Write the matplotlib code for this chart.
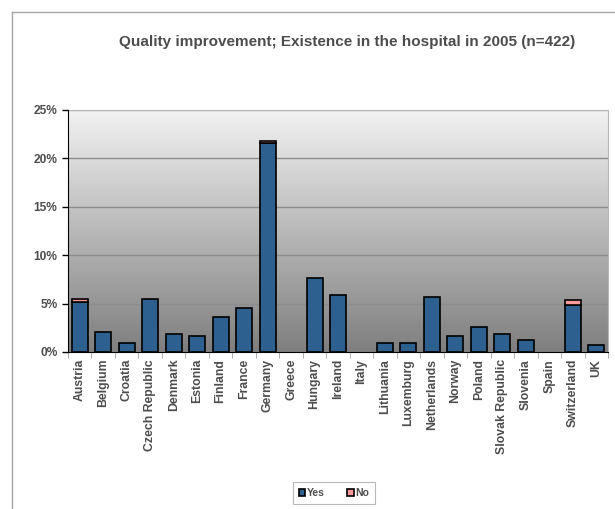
import numpy as np
import matplotlib.pyplot as plt
from matplotlib.colors import LinearSegmentedColormap
from matplotlib.ticker import FuncFormatter

countries = [
    "Austria", "Belgium", "Croatia", "Czech Republic", "Denmark", "Estonia",
    "Finland", "France", "Germany", "Greece", "Hungary", "Ireland", "Italy",
    "Lithuania", "Luxemburg", "Netherlands", "Norway", "Poland",
    "Slovak Republic", "Slovenia", "Spain", "Switzerland", "UK",
]
yes_pct = [5.2, 2.1, 0.9, 5.5, 1.9, 1.7, 3.6, 4.5, 21.6, 0.0, 7.6, 5.9, 0.0,
           0.9, 0.9, 5.7, 1.7, 2.6, 1.9, 1.2, 0.0, 4.9, 0.7]
no_pct = [0.3, 0.0, 0.0, 0.0, 0.0, 0.0, 0.0, 0.0, 0.2, 0.0, 0.0, 0.0, 0.0,
          0.0, 0.0, 0.0, 0.0, 0.0, 0.0, 0.0, 0.0, 0.5, 0.0]
y_ticks = [0, 5, 10, 15, 20, 25]

TEXT = "#4d4d4d"
plt.rcParams["font.family"] = ["Liberation Sans", "DejaVu Sans"]
plt.rcParams["font.weight"] = "bold"

fig = plt.figure(figsize=(6.15, 5.09), dpi=100)
W, H = 615, 509

# outer chart frame (only top and left edges visible in the crop)
fig.add_artist(plt.Line2D([12 / W, 12 / W], [0, 1 - 12 / H], color="#a6a6a6", lw=1))
fig.add_artist(plt.Line2D([12 / W, 1], [1 - 12 / H, 1 - 12 / H], color="#a6a6a6", lw=1))

ax = fig.add_axes([68 / W, 1 - 352 / H, 540 / W, 242 / H])

x = np.arange(len(countries))
yes = np.array(yes_pct)
no = np.array(no_pct)
ax.set_xlim(-0.5, len(countries) - 0.5)
ax.set_ylim(0, 25)

# plot area gradient
grad = LinearSegmentedColormap.from_list("g", ["#7f7f7f", "#f2f2f2"])
ax.imshow(np.linspace(0, 1, 256).reshape(-1, 1), cmap=grad, aspect="auto",
          extent=[-0.5, len(countries) - 0.5, 0, 25], origin="lower", zorder=0)

for t in y_ticks[1:]:
    ax.axhline(t, color="#8c8c8c" if t < 25 else "#b0b0b0", lw=1, zorder=1)

# skip empty segments so no flat outlines get drawn
m_yes = yes > 0
m_no = no > 0
ax.bar(x[m_yes], yes[m_yes], width=0.68, color="#2d5f8f", edgecolor="black",
       lw=1.2, label="Yes", zorder=3)
ax.bar(x[m_no], no[m_no], width=0.68, bottom=yes[m_no], color="#ff9a9a",
       edgecolor="black", lw=1.2, label="No", zorder=3)

ax.set_yticks(y_ticks)
ax.yaxis.set_major_formatter(FuncFormatter(lambda v, p: f"{v:.0f}%"))
ax.set_xticks(x)
ax.set_xticklabels(countries, rotation=90, fontsize=8.8, color=TEXT)
ax.set_xticks(np.arange(-0.5, len(countries), 1), minor=True)
ax.tick_params(axis="x", which="major", length=0, pad=5)
ax.tick_params(axis="x", which="minor", length=4, color="#a0a0a0")
ax.tick_params(axis="y", labelsize=8.6, labelcolor=TEXT, length=4, width=1)

for side in ("top", "right"):
    ax.spines[side].set_color("#b8b8b8")
for side in ("left", "bottom"):
    ax.spines[side].set_color("black")
    ax.spines[side].set_zorder(4)

fig.text(347 / W, 1 - 42 / H,
         "Quality improvement; Existence in the hospital in 2005 (n=422)",
         ha="center", va="center", fontsize=11, color=TEXT, fontweight="bold")

leg = fig.legend(loc="center", bbox_to_anchor=(334 / W, 1 - 493 / H), ncol=2,
                 fontsize=7.5, frameon=True, fancybox=False, handlelength=0.6,
                 handleheight=0.6, handletextpad=0.15, columnspacing=2.2,
                 borderpad=0.6)
leg.get_frame().set_edgecolor("#a6a6a6")
leg.get_frame().set_linewidth(0.8)
for txt in leg.get_texts():
    txt.set_color(TEXT)

fig.savefig("out.png", dpi=100)
